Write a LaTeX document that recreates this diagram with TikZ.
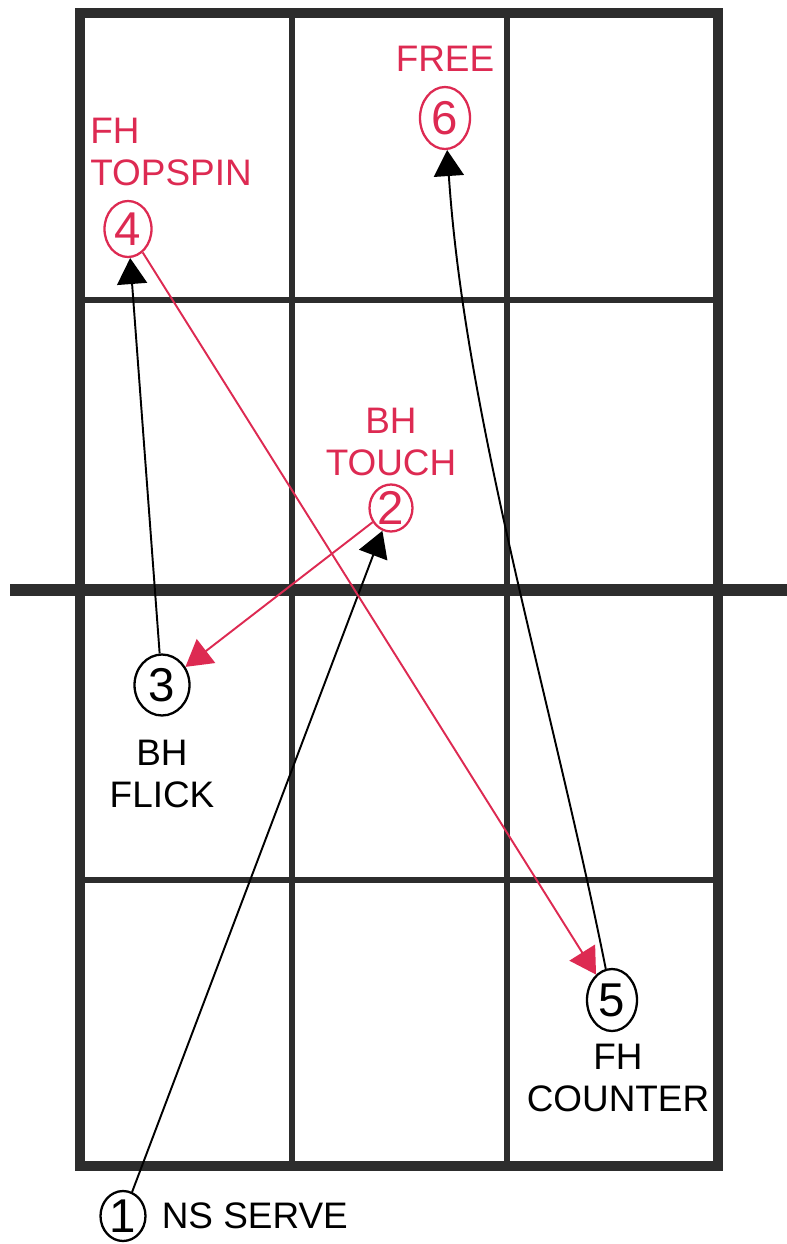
\documentclass[tikz,border=0pt]{standalone}
\usepackage{fontspec}
\setmainfont{Liberation Sans}
\usetikzlibrary{shapes.geometric,arrows.meta,positioning}
\definecolor{inkred}{RGB}{221,42,82}
\definecolor{courtgray}{RGB}{45,45,45}

\begin{document}
\begin{tikzpicture}[
    x=0.02cm, y=-0.02cm,
    court/.style={draw=courtgray, line width=3.4pt},
    courtedge/.style={draw=courtgray, line width=6.2pt},
    netline/.style={draw=courtgray, line width=7pt},
    shotblack/.style={ellipse, draw=black, line width=1.3pt, inner sep=0pt, minimum width=1.0cm, minimum height=1.24cm, font=\fontsize{27}{27}\selectfont},
    shotred/.style={shotblack, draw=inkred, text=inkred},
    tag/.style={font=\fontsize{21}{24}\selectfont, align=center},
    tagred/.style={tag, text=inkred},
    hit/.style={-{Triangle[length=0.52cm,width=0.6cm]}, line width=1.1pt},
    hitred/.style={hit, draw=inkred}
]
\useasboundingbox (0,0) rectangle (787,1244);

% Court
\foreach \gx in {292,507} \draw[court] (\gx,13) -- (\gx,1166);
\foreach \gy in {300,880} \draw[court] (80,\gy) -- (718,\gy);
\draw[courtedge] (80,13) rectangle (718,1166);
\draw[netline] (10,590) -- (787,590);

% Shots
\node[shotblack, minimum width=0.9cm, minimum height=1.0cm] (c1) at (123,1216) {1};
\node[shotred, minimum width=0.86cm, minimum height=0.94cm] (c2) at (391,508) {2};
\node[shotblack, minimum width=1.1cm, minimum height=1.22cm] (c3) at (162,685) {3};
\node[shotred, minimum width=0.94cm, minimum height=1.12cm] (c4) at (128,229) {4};
\node[shotblack] (c5) at (612,1000) {5};
\node[shotred] (c6) at (445,118) {6};

% Arrows
\draw[hit] (c1) -- (c2);
\draw[hitred] (c2) -- (c3);
\draw[hit] (c3) -- (c4);
\draw[hitred] (c4) -- (c5);
\draw[hit] (c5) .. controls +(-60,-300) and +(20,300) .. (c6);

% Labels
\node[tagred, above=0.16cm of c6] (free) {FREE};
\node[tagred, align=left, above=0.16cm of c4, xshift=0.86cm] (fhtopspin) {FH\\TOPSPIN};
\node[tagred, above=0.02cm of c2] (bhtouch) {BH\\TOUCH};
\node[tag, below=0.34cm of c3] (bhflick) {BH\\FLICK};
\node[tag, below=0.12cm of c5, xshift=0.12cm] (fhcounter) {FH\\COUNTER};
\node[tag, right=0.18cm of c1] (nsserve) {NS SERVE};

\end{tikzpicture}
\end{document}
